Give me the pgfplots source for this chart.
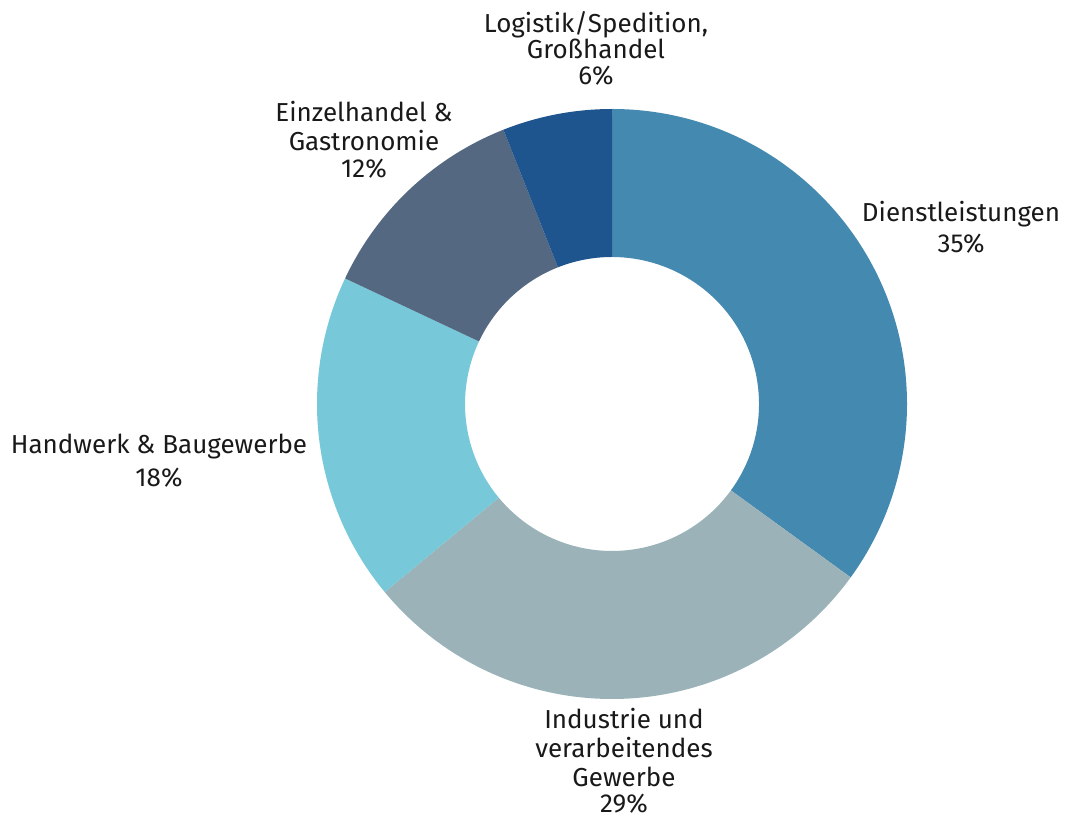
\documentclass[border=0pt]{standalone}
\usepackage{fontspec}
\setmainfont{Fira Sans}
\usepackage{pgfplots}
\pgfplotsset{compat=1.18}
\definecolor{cDienst}{HTML}{4489B0}
\definecolor{cIndus}{HTML}{9BB3B8}
\definecolor{cHand}{HTML}{77C9DA}
\definecolor{cEinzel}{HTML}{546882}
\definecolor{cLog}{HTML}{1F558E}
% slice from cumulative percent #1 to #2 (clockwise from top)
\newcommand{\slice}[3]{%
  \fill[#3] (axis cs:{612+295*cos(90-3.6*#1)},{416+295*sin(90-3.6*#1)})
     arc[start angle={90-3.6*#1}, end angle={90-3.6*#2}, radius=295bp]
     -- (axis cs:{612+147*cos(90-3.6*#2)},{416+147*sin(90-3.6*#2)})
     arc[start angle={90-3.6*#2}, end angle={90-3.6*#1}, radius=147bp] -- cycle;}
% label line: x centre, baseline (pixels from top), text
\newcommand{\lbl}[3]{\node[anchor=base] at (axis cs:#1,{820-#2}) {#3};}
\begin{document}
\begin{tikzpicture}
\begin{axis}[name=ax,
  scale only axis, width=1065bp, height=820bp,
  xmin=0, xmax=1065, ymin=0, ymax=820,
  hide axis, clip=false,
  nodes={font=\fontsize{26bp}{29bp}\selectfont, text=black!90, inner sep=0pt},
]
\slice{0}{35}{cDienst}
\slice{35}{64}{cIndus}
\slice{64}{82}{cHand}
\slice{82}{94}{cEinzel}
\slice{94}{100}{cLog}
\lbl{961}{222}{Dienstleistungen}
\lbl{961}{253}{35\%}
\lbl{624}{729}{Industrie und}
\lbl{624}{758}{verarbeitendes}
\lbl{624}{787}{Gewerbe}
\lbl{624}{813}{29\%}
\lbl{159}{454}{Handwerk \& Baugewerbe}
\lbl{159}{487}{18\%}
\lbl{364}{122}{Einzelhandel \&}
\lbl{364}{151}{Gastronomie}
\lbl{364}{178}{12\%}
\lbl{596}{33}{Logistik/Spedition,}
\lbl{596}{59}{Großhandel}
\lbl{596}{85}{6\%}
\end{axis}
\pgfresetboundingbox
\path[use as bounding box] (ax.south west) rectangle (ax.north east);
\end{tikzpicture}
\end{document}
